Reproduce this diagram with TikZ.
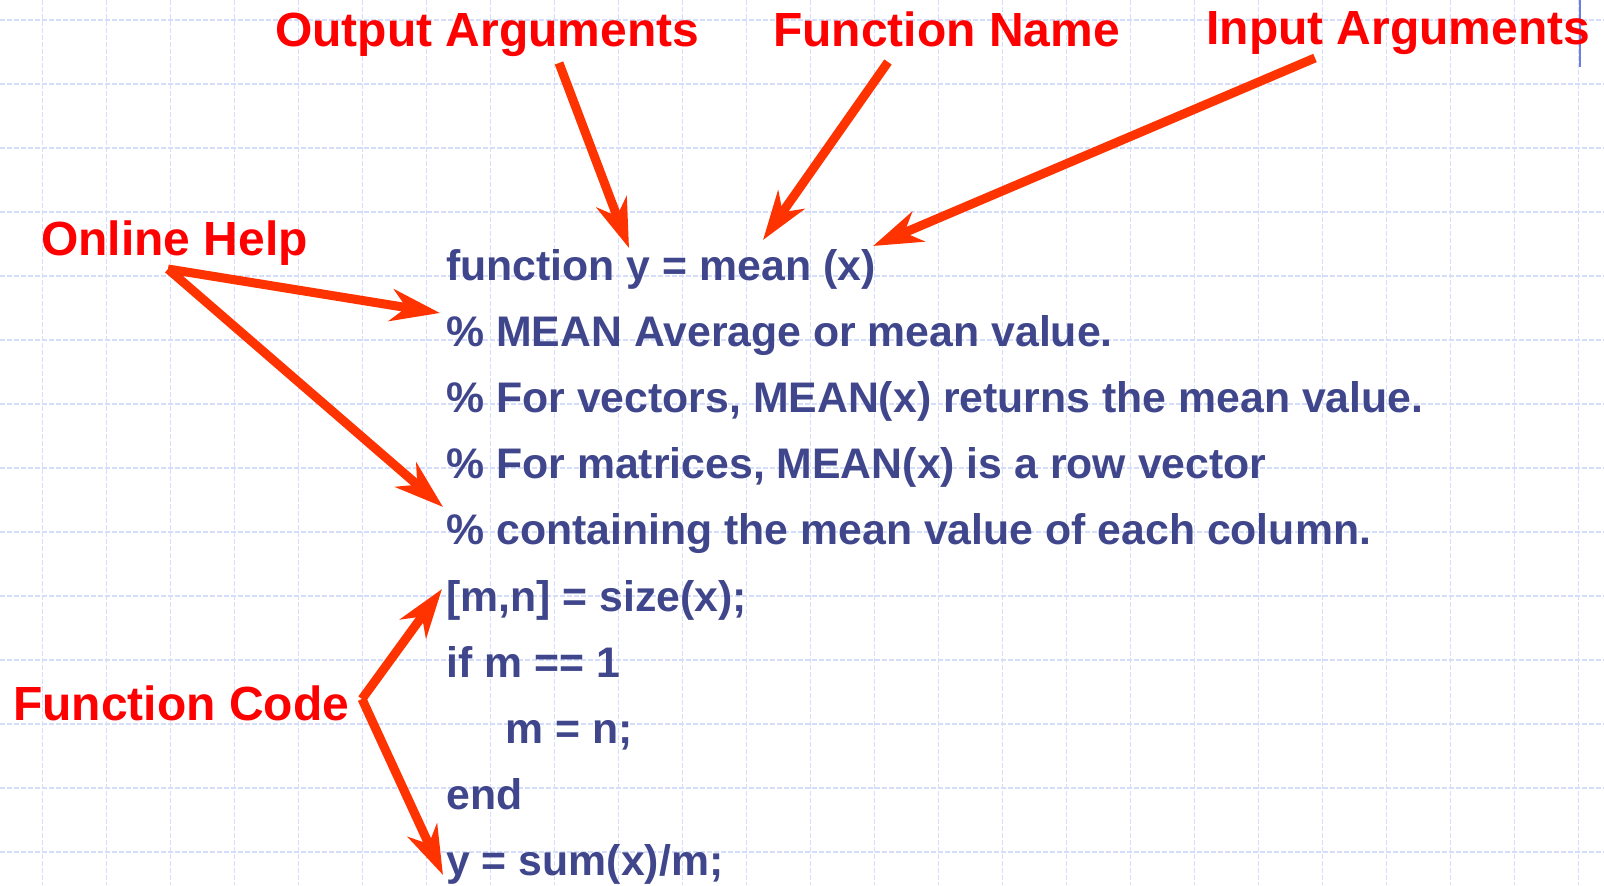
\documentclass[tikz,border=0pt]{standalone}
\usepackage{fontspec}
\setmainfont{Liberation Sans}
\usetikzlibrary{arrows.meta}

\definecolor{codeblue}{RGB}{64,70,140}
\definecolor{labelred}{RGB}{255,0,0}
\definecolor{arrowred}{RGB}{255,51,0}
\definecolor{gridblue}{RGB}{212,222,250}
\definecolor{cursorblue}{RGB}{110,125,225}

\begin{document}
\begin{tikzpicture}[
  x=0.02cm,y=-0.02cm,
  >={Stealth[length=0.98cm,width=0.64cm,inset=0.3cm]},
  codeline/.style={anchor=base west,inner sep=0pt,text=codeblue,
    font=\bfseries\fontsize{24.35}{28}\selectfont},
  callout/.style={anchor=base west,inner sep=0pt,text=labelred,
    font=\bfseries\fontsize{27.3}{31}\selectfont},
  pointer/.style={->,arrowred,line width=0.18cm},
  gridline/.style={gridblue,line width=0.03cm,dash pattern=on 0.1cm off 0.04cm}
]
  \useasboundingbox[fill=white] (0,0) rectangle (1604,885);

  % background grid
  \foreach \gx in {0,...,24}
    \draw[gridline] ({42.7+64*\gx},0) -- ({42.7+64*\gx},885);
  \foreach \gy in {0,...,13}
    \draw[gridline] (0,{20+64*\gy}) -- (1604,{20+64*\gy});
  \draw[cursorblue,line width=0.04cm] (1580,0) -- (1580,67);

  % the m-file
  \node[codeline] (fline)  at (446,280)   {function y = mean (x)};
  \node[codeline] (help1)  at (446,346.2) {\% MEAN Average or mean value.};
  \node[codeline] (help2)  at (446,412.4) {\% For vectors, MEAN(x) returns the mean value.};
  \node[codeline] (help3)  at (446,478.6) {\% For matrices, MEAN(x) is a row vector};
  \node[codeline] (help4)  at (446,544.8) {\% containing the mean value of each column.};
  \node[codeline] (code1)  at (446,611)   {[m,n] = size(x);};
  \node[codeline] (code2)  at (446,677.2) {if m == 1};
  \node[codeline] (code3)  at (505,743.4) {m = n;};
  \node[codeline] (code4)  at (446,809.6) {end};
  \node[codeline] (code5)  at (446,875.8) {y = sum(x)/m;};

  % callouts
  \node[callout] (outargs) at (275,46.7) {Output Arguments};
  \node[callout] (fname)   at (773,46.7) {Function Name};
  \node[callout] (inargs)  at (1206,45)  {Input Arguments};
  \node[callout] (ohelp)   at (41,255)   {Online Help};
  \node[callout] (fcode)   at (13,720)   {Function Code};

  \coordinate (outTail)  at (559,63);
  \coordinate (outTip)   at (629,248);
  \coordinate (nameTail) at (888,62);
  \coordinate (nameTip)  at (763,240);
  \coordinate (inTail)   at (1315,58);
  \coordinate (inTip)    at (873,246);
  \coordinate (helpTail) at (168,269);
  \coordinate (helpTipA) at (440,313);
  \coordinate (helpTipB) at (443,507);
  \coordinate (codeTail) at (362,699);
  \coordinate (codeTipA) at (442,589);
  \coordinate (codeTipB) at (443,875);

  \draw[pointer] (outTail) -- (outTip);
  \draw[pointer] (nameTail) -- (nameTip);
  \draw[pointer] (inTail) -- (inTip);
  \draw[pointer] (helpTail) -- (helpTipA);
  \draw[pointer] (helpTail) -- (helpTipB);
  \draw[pointer] (codeTail) -- (codeTipA);
  \draw[pointer] (codeTail) -- (codeTipB);
\end{tikzpicture}
\end{document}
